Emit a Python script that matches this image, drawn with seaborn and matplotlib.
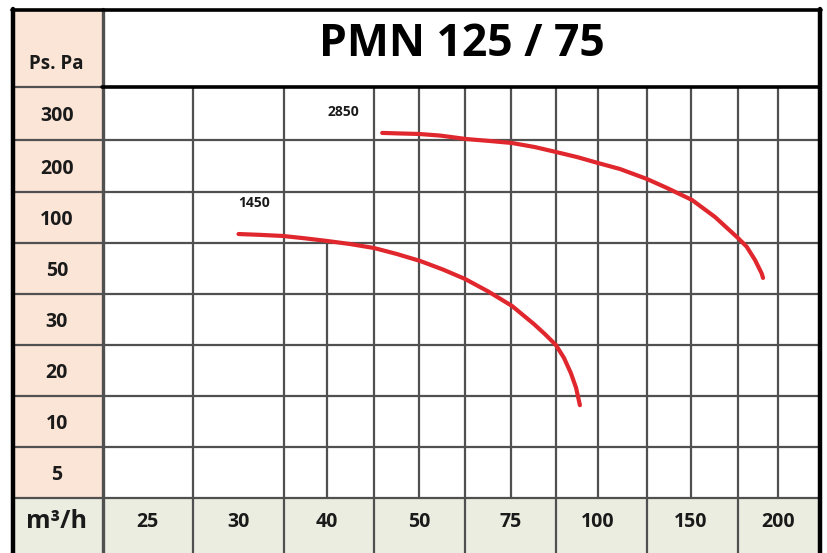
import numpy as np
import pandas as pd
import matplotlib
matplotlib.use("Agg")
import matplotlib.pyplot as plt
import seaborn as sns

# values
title = "PMN 125 / 75"
flow_ticks = [25, 30, 40, 50, 75, 100, 150, 200]          # m3/h
pressure_ticks = [5, 10, 20, 30, 50, 100, 200, 300]       # Ps. Pa

flow_1450 = [30, 32.4, 35, 37.5, 40, 42.5, 45.1, 47.6, 50.3, 56.5, 62.5, 68.8,
             75.3, 81.6, 84.8, 87.9, 90.2, 92.2, 93.7, 94.8]
ps_1450 = [83.8, 83, 81.9, 79.6, 77, 74, 70.1, 64.2, 57.4, 49.6, 45.9, 41,
           35.3, 29.1, 27.1, 25, 22.5, 19.5, 16.6, 13.2]

flow_2850 = [46, 47.9, 50, 55.7, 62.8, 69.3, 75.3, 81.9, 87.9, 94, 100, 111.8,
             126.3, 137.1, 150.6, 163.8, 177, 182, 186.8, 190.6, 191.4]
ps_2850 = [263, 262, 261, 258, 251.4, 247.6, 243.8, 236, 226.7, 217, 205.7, 194.2,
           174.8, 157.3, 134, 101, 79.9, 71.4, 58.3, 48.1, 46.3]

df = pd.concat([
    pd.DataFrame({"flow": flow_1450, "ps": ps_1450, "rpm": "1450"}),
    pd.DataFrame({"flow": flow_2850, "ps": ps_2850, "rpm": "2850"}),
])

sns.set_theme(style="white")
plt.rcParams["font.family"] = ["Open Sans", "DejaVu Sans"]

# the table is not linear: each tick sits in the middle of its own cell
x_vals = [20] + flow_ticks + [220]
x_px = [102, 147.5, 238.5, 327, 419, 511, 598, 691, 778, 818]
y_vals = [2.5] + pressure_ticks + [350]
y_px = np.array([498, 472.5, 421.5, 370.5, 319.5, 268.5, 217.5, 166, 113.5, 87])

def fx(v):
    return np.interp(v, x_vals, x_px)

def fx_inv(p):
    return np.interp(p, x_px, x_vals)

def fy(v):
    return -np.interp(v, y_vals, y_px)

def fy_inv(p):
    return np.interp(p, -y_px, y_vals)

W, H = 827, 553
fig = plt.figure(figsize=(W / 100, H / 100), dpi=100)

# background table drawn in pixel units
bg = fig.add_axes([0, 0, 1, 1])
bg.set_xlim(0, W)
bg.set_ylim(H, 0)
bg.axis("off")

peach = "#FBE5D6"
green = "#EBEDE0"
grey = "#505050"
bg.add_patch(plt.Rectangle((12, 9), 90, 489, color=peach, zorder=0))
bg.add_patch(plt.Rectangle((12, 498), 808, 60, color=green, zorder=0))

row_lines = [140, 192, 243, 294, 345, 396, 447, 498]
for y in row_lines:
    bg.plot([12, 820], [y, y], color=grey, lw=1.6, zorder=1)
bg.plot([12, 102], [87, 87], color=grey, lw=1.6, zorder=1)
bg.plot([102, 820], [87, 87], color="black", lw=2.6, zorder=2)

for x in [193, 284, 374, 465, 556, 647, 738]:
    bg.plot([x, x], [87, H], color=grey, lw=1.6, zorder=1)
for x in [419, 511, 598, 691, 778]:
    bg.plot([x, x], [87, 498], color=grey, lw=1.6, zorder=1)
bg.plot([327, 327], [243, 498], color=grey, lw=1.6, zorder=1)
bg.plot([103, 103], [9, H], color=grey, lw=2.4, zorder=1)

# outer frame
bg.plot([13, 13], [9, H], color="black", lw=3.2, zorder=3)
bg.plot([12, 821], [10, 10], color="black", lw=2.6, zorder=3)
bg.plot([820, 820], [9, H], color="black", lw=3.2, zorder=3)

bg.text(462, 44, title, ha="center", va="center", fontsize=32, fontweight="bold", color="black")
bg.text(56, 64, "Ps. Pa", ha="center", va="center", fontsize=13.5, fontweight="bold", color="#1a1a1a")
bg.text(57, 521, "m³/h", ha="center", va="center", fontsize=18, fontweight="bold", color="#1a1a1a")

# curve axes, same table scale
ax = fig.add_axes([102 / W, (H - 498) / H, (818 - 102) / W, (498 - 87) / H])
ax.set_xscale("function", functions=(fx, fx_inv))
ax.set_yscale("function", functions=(fy, fy_inv))
ax.set_xlim(20, 220)
ax.set_ylim(2.5, 350)
ax.patch.set_alpha(0)
for s in ax.spines.values():
    s.set_visible(False)

red = "#E0272D"
sns.lineplot(data=df, x="flow", y="ps", hue="rpm", palette={"1450": red, "2850": red},
             estimator=None, sort=True, lw=3, legend=False, ax=ax)

ax.annotate("1450", (flow_1450[0], ps_1450[0]), xytext=(11, 22), textcoords="offset points",
            ha="center", va="center", fontsize=10, fontweight="bold", color="#1a1a1a")
ax.annotate("2850", (flow_2850[0], ps_2850[0]), xytext=(-28, 15), textcoords="offset points",
            ha="center", va="center", fontsize=10, fontweight="bold", color="#1a1a1a")

ax.set_xticks(flow_ticks)
ax.set_xticklabels([str(v) for v in flow_ticks])
ax.set_yticks(pressure_ticks)
ax.set_yticklabels([str(v) for v in pressure_ticks])
ax.minorticks_off()
ax.tick_params(axis="x", length=0, pad=17, labelsize=14, colors="#1a1a1a")
ax.tick_params(axis="y", length=0, pad=32.5, labelsize=14, colors="#1a1a1a")
for lab in ax.get_xticklabels():
    lab.set_va("center")
    lab.set_fontweight("bold")
for lab in ax.get_yticklabels():
    lab.set_ha("center")
    lab.set_fontweight("bold")
ax.set_xlabel("")
ax.set_ylabel("")

fig.savefig("out.png", dpi=100)
